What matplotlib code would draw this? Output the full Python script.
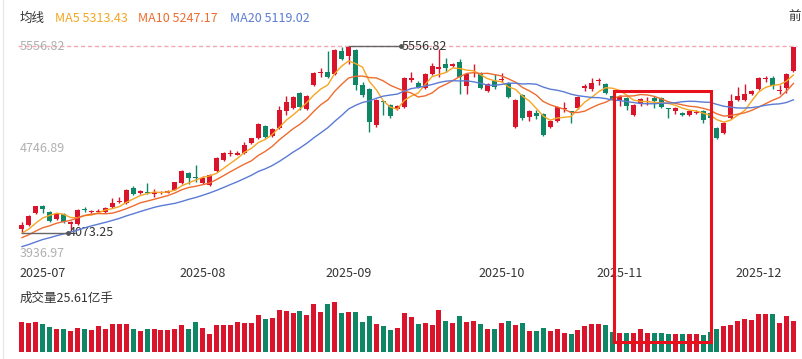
import numpy as np
import pandas as pd
from matplotlib import pyplot as plt
from matplotlib.patches import Rectangle
from matplotlib.lines import Line2D

plt.rcParams['font.family'] = ['Noto Sans CJK SC', 'DejaVu Sans']

# 日K数据 (开, 高, 低, 收)
opens = [4104, 4136, 4231, 4287, 4239, 4180, 4223, 4144, 4144, 4258,
         4236, 4240, 4239, 4279, 4318, 4310, 4430, 4390, 4394, 4384,
         4386, 4392, 4414, 4469, 4549, 4515, 4469, 4453, 4565, 4652,
         4700, 4695, 4707, 4787, 4826, 4922, 4842, 4906, 5041, 5064,
         5184, 5057, 5247, 5345, 5350, 5335, 5517, 5477, 5525, 5247,
         5215, 4930, 5115, 5088, 5057, 5072, 5290, 5263, 5223, 5335,
         5378, 5414, 5400, 5430, 5239, 5355, 5342, 5199, 5279, 5290,
         5263, 4914, 5168, 4993, 5025, 5017, 4914, 4961, 5060, 5035,
         5064, 5223, 5215, 5282, 5255, 5160, 5128, 5144, 5009, 5104,
         5112, 5144, 5144, 5059, 5041, 5025, 5009, 5028, 5041, 5025,
         4906, 4866, 4985, 5128, 5128, 5176, 5215, 5295, 5303, 5199,
         5223, 5358]
highs = [4160, 4218, 4290, 4292, 4245, 4228, 4228, 4165, 4260, 4275,
         4258, 4265, 4280, 4350, 4358, 4420, 4445, 4412, 4469, 4422,
         4406, 4412, 4480, 4570, 4555, 4612, 4525, 4540, 4675, 4712,
         4731, 4720, 4795, 4830, 4942, 4930, 4905, 5080, 5160, 5160,
         5192, 5168, 5350, 5382, 5517, 5530, 5549, 5556.82, 5533, 5271,
         5225, 5135, 5120, 5095, 5088, 5310, 5350, 5279, 5340, 5420,
         5533, 5462, 5420, 5454, 5340, 5414, 5350, 5262, 5335, 5342,
         5270, 5135, 5175, 5048, 5049, 5022, 4968, 5078, 5112, 5040,
         5158, 5255, 5303, 5303, 5262, 5165, 5168, 5150, 5095, 5142,
         5152, 5160, 5150, 5062, 5070, 5030, 5046, 5045, 5046, 5030,
         4912, 4950, 5176, 5231, 5255, 5205, 5310, 5319, 5319, 5247,
         5340, 5552]
lows = [4073.25, 4128, 4225, 4231, 4160, 4175, 4152, 4096, 4136, 4240,
        4228, 4232, 4231, 4271, 4310, 4305, 4376, 4384, 4380, 4358,
        4378, 4386, 4410, 4465, 4461, 4477, 4461, 4445, 4560, 4645,
        4684, 4688, 4700, 4780, 4820, 4826, 4835, 4900, 5009, 5058,
        5049, 5050, 5240, 5311, 5305, 5327, 5448, 5414, 5207, 5152,
        4874, 4914, 5009, 4985, 5050, 5065, 5271, 5223, 5215, 5330,
        5311, 5350, 5390, 5176, 5176, 5311, 5215, 5192, 5215, 5271,
        5144, 4906, 4969, 4961, 4977, 4842, 4906, 4955, 5033, 4945,
        5057, 5199, 5199, 5247, 5176, 5125, 5080, 5049, 5001, 5080,
        5088, 5064, 5065, 4985, 5017, 5003, 5003, 5020, 4945, 4930,
        4820, 4860, 4980, 5120, 5122, 5168, 5207, 5271, 5215, 5176,
        5184, 5350]
closes = [4136, 4207, 4287, 4263, 4168, 4223, 4160, 4160, 4255, 4252,
          4245, 4250, 4271, 4310, 4330, 4414, 4382, 4406, 4390, 4394,
          4396, 4402, 4477, 4565, 4509, 4509, 4509, 4533, 4668, 4707,
          4710, 4705, 4771, 4826, 4937, 4834, 4898, 5049, 5112, 5152,
          5072, 5160, 5342, 5352, 5311, 5525, 5454, 5549, 5247, 5168,
          4953, 5128, 5110, 5001, 5080, 5303, 5300, 5231, 5335, 5398,
          5388, 5382, 5410, 5311, 5335, 5362, 5223, 5255, 5231, 5297,
          5152, 5128, 4985, 5041, 5001, 4850, 4961, 5072, 5068, 5030,
          5152, 5239, 5263, 5290, 5184, 5130, 5152, 5080, 5088, 5136,
          5120, 5120, 5072, 5055, 5064, 5009, 5041, 5036, 4969, 4985,
          4826, 4945, 5120, 5160, 5176, 5199, 5303, 5303, 5239, 5207,
          5335, 5549]
# 成交量 (亿手)
volumes = [24.8, 24.0, 24.8, 23.1, 20.7, 19.0, 19.0, 17.3, 19.8, 19.0,
           18.2, 21.5, 19.0, 23.1, 23.1, 23.1, 19.0, 17.3, 19.0, 19.0,
           18.2, 18.2, 19.0, 22.3, 19.0, 24.8, 19.8, 14.9, 22.3, 22.3,
           22.3, 24.8, 24.0, 24.0, 30.6, 27.3, 28.1, 34.7, 33.9, 32.2,
           33.9, 30.6, 39.6, 33.0, 39.6, 41.3, 32.2, 33.0, 33.0, 24.8,
           29.7, 23.1, 21.5, 18.2, 19.8, 32.2, 28.9, 23.1, 24.0, 22.3,
           34.7, 25.6, 24.0, 29.7, 24.8, 25.6, 23.1, 19.0, 19.0, 24.0,
           25.6, 22.3, 24.0, 17.3, 17.3, 19.8, 17.3, 19.0, 15.7, 14.9,
           18.2, 21.5, 23.1, 23.1, 22.3, 16.5, 15.7, 15.7, 15.7, 19.0,
           15.7, 15.7, 15.7, 14.9, 14.9, 14.9, 14.9, 14.9, 14.0, 16.5,
           19.0, 21.5, 22.3, 25.6, 27.3, 26.4, 31.4, 31.4, 31.4, 24.0,
           29.7, 25.61]
# 窗口之前的收盘价, 用于计算均线起点
prev_closes = [3870, 3880, 3875, 3890, 3900, 3885, 3895, 3905, 3910, 3919,
               3975, 3990, 4005, 4010, 4020, 4040, 4050, 4060, 4066]

month_labels = ["2025-07", "2025-08", "2025-09", "2025-10", "2025-11", "2025-12"]
month_pos = [3, 26, 47, 69, 86, 106]

y_ticks = [5556.82, 4746.89, 3936.97]
ma_legend = [("MA5 5313.43", "#f5a623", 55), ("MA10 5247.17", "#ef6c2f", 138),
             ("MA20 5119.02", "#5b7bd5", 230)]

RED = "#d9142b"
GREEN = "#0f8766"

o = np.array(opens)
h = np.array(highs)
l = np.array(lows)
c = np.array(closes)
x = np.arange(len(c))
up = c >= o
colors = np.where(up, RED, GREEN)

all_close = pd.Series(prev_closes + closes)
ma5 = all_close.rolling(5).mean().values[len(prev_closes):]
ma10 = all_close.rolling(10).mean().values[len(prev_closes):]
ma20 = all_close.rolling(20).mean().values[len(prev_closes):]

W, H = 803, 359
fig = plt.figure(figsize=(W / 100, H / 100), dpi=100)


def fx(px):
    return px / W


def fy(py):
    return 1 - py / H


# 价格区 (像素 30 -> 262)
ax = fig.add_axes([fx(18.5), fy(262), fx(778.4), (262 - 30) / H])
ppx = (5556.82 - 3936.97) / 204.0
ax.set_ylim(3936.97 - 12 * ppx, 5556.82 + 16 * ppx)
ax.set_xlim(-0.5, len(c) - 0.5)
ax.axis("off")

ax.axhline(5556.82, color="#f3a9b4", lw=1, ls=(0, (3, 2)), zorder=0, clip_on=False)

ax.vlines(x, l, h, colors=colors, lw=1, zorder=2)
body_h = np.maximum(np.abs(c - o), 7)
ax.bar(x, body_h, bottom=np.minimum(o, c), width=0.72, color=colors, zorder=3)

ax.plot(x, ma5, color="#f5a623", lw=1, zorder=4)
ax.plot(x, ma10, color="#ef6c2f", lw=1, zorder=4)
ax.plot(x, ma20, color="#5b7bd5", lw=1, zorder=4)

# 最高 / 最低标注
imax = int(np.argmax(h))
imin = int(np.argmin(l))
ax.plot([imax, imax + 7.5], [h[imax], h[imax]], color="#666666", lw=1, zorder=5)
ax.plot(imax + 7.5, h[imax], "o", ms=2.5, color="#555555", zorder=5)
ax.text(imax + 7.7, h[imax], f"{h[imax]:.2f}", fontsize=9, color="#333333",
        va="center", ha="left")
ax.plot([imin, imin + 6.6], [l[imin], l[imin]], color="#666666", lw=1, zorder=5)
ax.plot(imin + 6.6, l[imin], "o", ms=2.5, color="#555555", zorder=5)
ax.text(imin + 6.8, l[imin], f"{l[imin]:.2f}", fontsize=9, color="#333333",
        va="center", ha="left")

for i, v in enumerate(y_ticks):
    ax.text(-0.3, v if i < 2 else v - 3 * ppx, f"{v:.2f}", fontsize=9, color="#b0b0b0",
            va="center", ha="left", zorder=6)

for lab, p in zip(month_labels, month_pos):
    ax.text(p, 3936.97 - 23 * ppx, lab, fontsize=9, color="#333333",
            ha="center", va="center", clip_on=False)

# 成交量区
vax = fig.add_axes([fx(18.5), fy(352), fx(778.4), 52 / H])
vax.bar(x, volumes, width=0.72, color=colors)
vax.set_xlim(-0.5, len(c) - 0.5)
vax.set_ylim(0, 42.9)
vax.axis("off")

fig.text(fx(20), fy(298), f"成交量{volumes[-1]:.2f}亿手", fontsize=9, color="#333333",
         va="center", ha="left")

# 顶部均线图例
fig.text(fx(20), fy(18), "均线", fontsize=9, color="#333333", va="center")
for txt, col, px in ma_legend:
    fig.text(fx(px), fy(18), txt, fontsize=9, color=col, va="center")
fig.text(fx(801), fy(16), "前", fontsize=9, color="#333333", va="center", ha="right")

# 高亮框
fig.add_artist(Rectangle((fx(614.5), fy(341.5)), fx(711.5 - 614.5), (341.5 - 90.5) / H,
                         fill=False, edgecolor="#e8101b", lw=2.2, transform=fig.transFigure))
fig.add_artist(Line2D([fx(3), fx(3)], [0, 1], color="#e8e8e8", lw=1,
                      transform=fig.transFigure))

fig.savefig("out.png", dpi=100)
